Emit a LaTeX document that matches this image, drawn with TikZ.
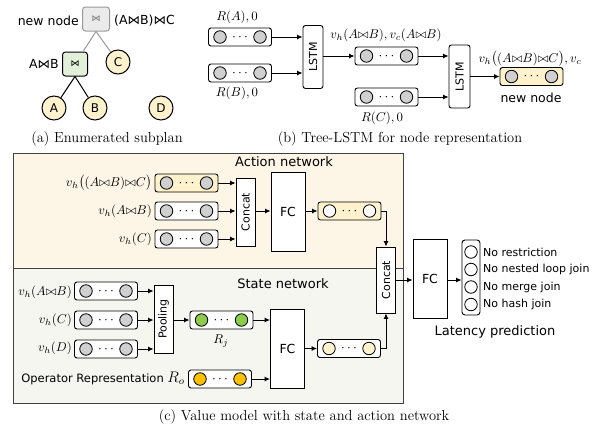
\documentclass[tikz,border=0pt]{standalone}
\usepackage{fontspec}
\usepackage{graphicx}
\setsansfont{DejaVu Sans}
\usetikzlibrary{arrows.meta}
\definecolor{ylw}{HTML}{FFF2CC}
\definecolor{grn}{HTML}{E2EFDA}
\definecolor{cgray}{HTML}{D0D0D0}
\definecolor{cgreen}{HTML}{8DCB4A}
\definecolor{corange}{HTML}{FFC000}
\definecolor{actbg}{HTML}{FDF6E6}
\definecolor{stbg}{HTML}{F4F6EF}
\definecolor{edgegray}{HTML}{999999}
\newcommand\mth[1]{\scalebox{1.28}{$#1$}}
\newcommand\vecnode[4]{%
  \node[vec, fill=#3] (#1) at (#2) {\scalebox{1.35}{$\cdots$}};
  \node[vdot, fill=#4] (#1l) at ([xshift=-20pt]#1.center) {};
  \node[vdot, fill=#4] (#1r) at ([xshift=20pt]#1.center) {};
}
\tikzset{
  vec/.style={draw, line width=0.9pt, rounded corners=2.5pt, minimum width=63pt, minimum height=18pt, inner sep=0pt},
  vdot/.style={draw, line width=0.8pt, circle, minimum size=12.5pt, inner sep=0pt},
  blk/.style={draw, line width=0.9pt, inner sep=0pt, fill=white, font=\sffamily\fontsize{11}{12}\selectfont},
  fcbox/.style={blk, minimum width=34pt, minimum height=79pt, font=\sffamily\fontsize{12.5}{14}\selectfont},
  arr/.style={-{Latex[length=5.5pt,width=5pt]}, line width=0.9pt},
  sflab/.style={font=\sffamily\fontsize{12.5}{14}\selectfont, inner sep=1pt},
  smlab/.style={font=\sffamily\fontsize{11}{13}\selectfont, inner sep=1pt},
  mlab/.style={inner sep=1pt},
  captxt/.style={font=\fontsize{14.5}{16}\selectfont},
  leaf/.style={draw, line width=1pt, circle, fill=ylw, minimum size=24pt, inner sep=0pt, font=\sffamily\fontsize{12}{14}\selectfont},
  panel/.style={draw=black!75, line width=0.9pt},
}
\begin{document}
\begin{tikzpicture}[x=1pt, y=-1pt]
\useasboundingbox (0,0) rectangle (596,431);

% ---------------- (a) ----------------
\node[draw=edgegray, fill=black!8, line width=1pt, rounded corners=3pt, minimum width=27pt, minimum height=24pt, inner sep=0pt, text=black!55, font=\sffamily\fontsize{9}{10}\selectfont] (nn) at (96,19) {⋈};
\node[sflab, anchor=east] (nnl) at (80,21) {new node};
\node[sflab, anchor=west] (nnr) at (113,21) {(A⋈B)⋈C};
\node[draw, fill=grn, line width=1pt, rounded corners=3pt, minimum width=25pt, minimum height=24pt, inner sep=0pt, font=\sffamily\fontsize{9}{10}\selectfont] (ab) at (75,64) {⋈};
\node[sflab, anchor=east] (abl) at (60,64) {A⋈B};
\node[leaf] (C) at (118,62) {C};
\node[leaf] (A) at (54,108) {A};
\node[leaf] (B) at (95,108) {B};
\node[leaf] (D) at (161,108) {D};
\draw[edgegray, line width=1pt] (nn.south) -- (ab);
\draw[edgegray, line width=1pt] (nn.south) -- (C);
\draw[line width=1pt] (ab.south) -- (A);
\draw[line width=1pt] (ab.south) -- (B);
\node[captxt] (capa) at (107,139) {(a) Enumerated subplan};

% ---------------- (b) ----------------
\vecnode{b1}{240,37}{white}{cgray}
\vecnode{b2}{240,73}{white}{cgray}
\node[blk, rounded corners=2.5pt, minimum width=20pt, minimum height=63pt] (l1) at (313,57) {\rotatebox{90}{LSTM}};
\vecnode{b3}{386.5,56}{white}{cgray}
\vecnode{b4}{386.5,97}{white}{cgray}
\node[blk, rounded corners=2.5pt, minimum width=21pt, minimum height=63pt] (l2) at (459.5,76.5) {\rotatebox{90}{LSTM}};
\vecnode{b5}{531.5,76.5}{ylw}{cgray}
\draw[arr] (b1.east) -- (l1.west |- b1);
\draw[arr] (b2.east) -- (l1.west |- b2);
\draw[arr] (l1.east |- b3) -- (b3.west);
\draw[arr] (b3.east) -- (l2.west |- b3);
\draw[arr] (b4.east) -- (l2.west |- b4);
\draw[arr] (l2.east |- b5) -- (b5.west);
\node[mlab] (rA) at (237,17) {\mth{R(A),0}};
\node[mlab] (rB) at (237,93) {\mth{R(B),0}};
\node[mlab] (vb3) at (386,35) {\mth{v_h(A{\bowtie}B),v_c(A{\bowtie}B)}};
\node[mlab] (rC) at (382,118) {\mth{R(C),0}};
\node[mlab] (vb5) at (530,59) {\mth{v_h\big((A{\bowtie}B){\bowtie}C\big),v_c}};
\node[sflab] (nnb) at (531,98) {new node};
\node[captxt] (capb) at (400,139) {(b) Tree-LSTM for node representation};

% ---------------- (c) ----------------
\draw[panel, fill=actbg] (13,153) rectangle (403,268);
\draw[panel, fill=stbg] (13,268) rectangle (403,403);
\node[font=\sffamily\fontsize{13}{15}\selectfont] (acttitle) at (284,162) {Action network};
\node[font=\sffamily\fontsize{13}{15}\selectfont] (sttitle) at (283,284) {State network};

% action rows
\vecnode{a1}{186.5,183}{ylw}{cgray}
\vecnode{a2}{186.5,211}{white}{cgray}
\vecnode{a3}{186.5,239}{white}{cgray}
\node[mlab, anchor=east] (a1l) at (153,183) {\mth{v_h\big((A{\bowtie}B){\bowtie}C\big)}};
\node[mlab, anchor=east] (a2l) at (153,211) {\mth{v_h(A{\bowtie}B)}};
\node[mlab, anchor=east] (a3l) at (153,239) {\mth{v_h(C)}};
\node[blk, minimum width=19pt, minimum height=68pt] (c1) at (245.5,212) {\rotatebox{90}{Concat}};
\draw[arr] (a1.east) -- (c1.west |- a1);
\draw[arr] (a2.east) -- (c1.west |- a2);
\draw[arr] (a3.east) -- (c1.west |- a3);
\node[fcbox] (fc1) at (288,211.5) {FC};
\draw[arr] (c1.east |- a2) -- (fc1.west |- a2);
\vecnode{ao}{349.5,211}{ylw}{white}
\draw[arr] (fc1.east |- ao) -- (ao.west);

% state rows
\vecnode{s1}{106,291}{white}{cgray}
\vecnode{s2}{106,320}{white}{cgray}
\vecnode{s3}{106,349}{white}{cgray}
\node[mlab, anchor=east] (s1l) at (73,292) {\mth{v_h(A{\bowtie}B)}};
\node[mlab, anchor=east] (s2l) at (73,320) {\mth{v_h(C)}};
\node[mlab, anchor=east] (s3l) at (73,348) {\mth{v_h(D)}};
\node[blk, minimum width=19pt, minimum height=68pt] (pool) at (163.5,319) {\rotatebox{90}{Pooling}};
\draw[arr] (s1.east) -- (pool.west |- s1);
\draw[arr] (s2.east) -- (pool.west |- s2);
\draw[arr] (s3.east) -- (pool.west |- s3);
\vecnode{rj}{221.5,320}{white}{cgreen}
\draw[arr] (pool.east |- rj) -- (rj.west);
\node[mlab] (rjl) at (221,341) {\mth{R_j}};
\vecnode{ro}{220,379}{white}{corange}
\node[font=\sffamily\fontsize{11.5}{13}\selectfont, inner sep=1pt, anchor=east] (rol) at (186,378) {Operator Representation \mth{R_o}};
\node[fcbox] (fc3) at (287.5,348.5) {FC};
\draw[arr] (rj.east) -- (fc3.west |- rj);
\draw[arr] (ro.east) -- (fc3.west |- ro);
\vecnode{so}{349,348.5}{white}{ylw}
\draw[arr] (fc3.east |- so) -- (so.west);

% merge
\node[blk, minimum width=19pt, minimum height=66pt] (c2) at (386,280) {\rotatebox{90}{Concat}};
\draw[arr] (ao.east) -- (c2.north |- ao) -- (c2.north);
\draw[arr] (so.east) -- (c2.south |- so) -- (c2.south);
\node[fcbox] (fc2) at (430,278.5) {FC};
\draw[arr] (c2.east) -- (fc2.west |- c2);
\node[draw, line width=0.9pt, rounded corners=3pt, minimum width=18pt, minimum height=75pt, inner sep=0pt, fill=white] (out) at (471,277.5) {};
\draw[arr] (fc2.east |- c2) -- (out.west |- c2);
\node[vdot, fill=white] (o1) at (471,252) {};
\node[vdot, fill=white] (o2) at (471,269.5) {};
\node[vdot, fill=white] (o3) at (471,287) {};
\node[vdot, fill=white] (o4) at (471,304.5) {};
\node[smlab, anchor=west] (o1l) at (482,252) {No restriction};
\node[smlab, anchor=west] (o2l) at (482,269.5) {No nested loop join};
\node[smlab, anchor=west] (o3l) at (482,287) {No merge join};
\node[smlab, anchor=west] (o4l) at (482,304.5) {No hash join};
\node[font=\sffamily\fontsize{13}{15}\selectfont] (lat) at (495,332) {Latency prediction};
\node[captxt] (capc) at (304,417) {(c) Value model with state and action network};
\end{tikzpicture}
\end{document}
